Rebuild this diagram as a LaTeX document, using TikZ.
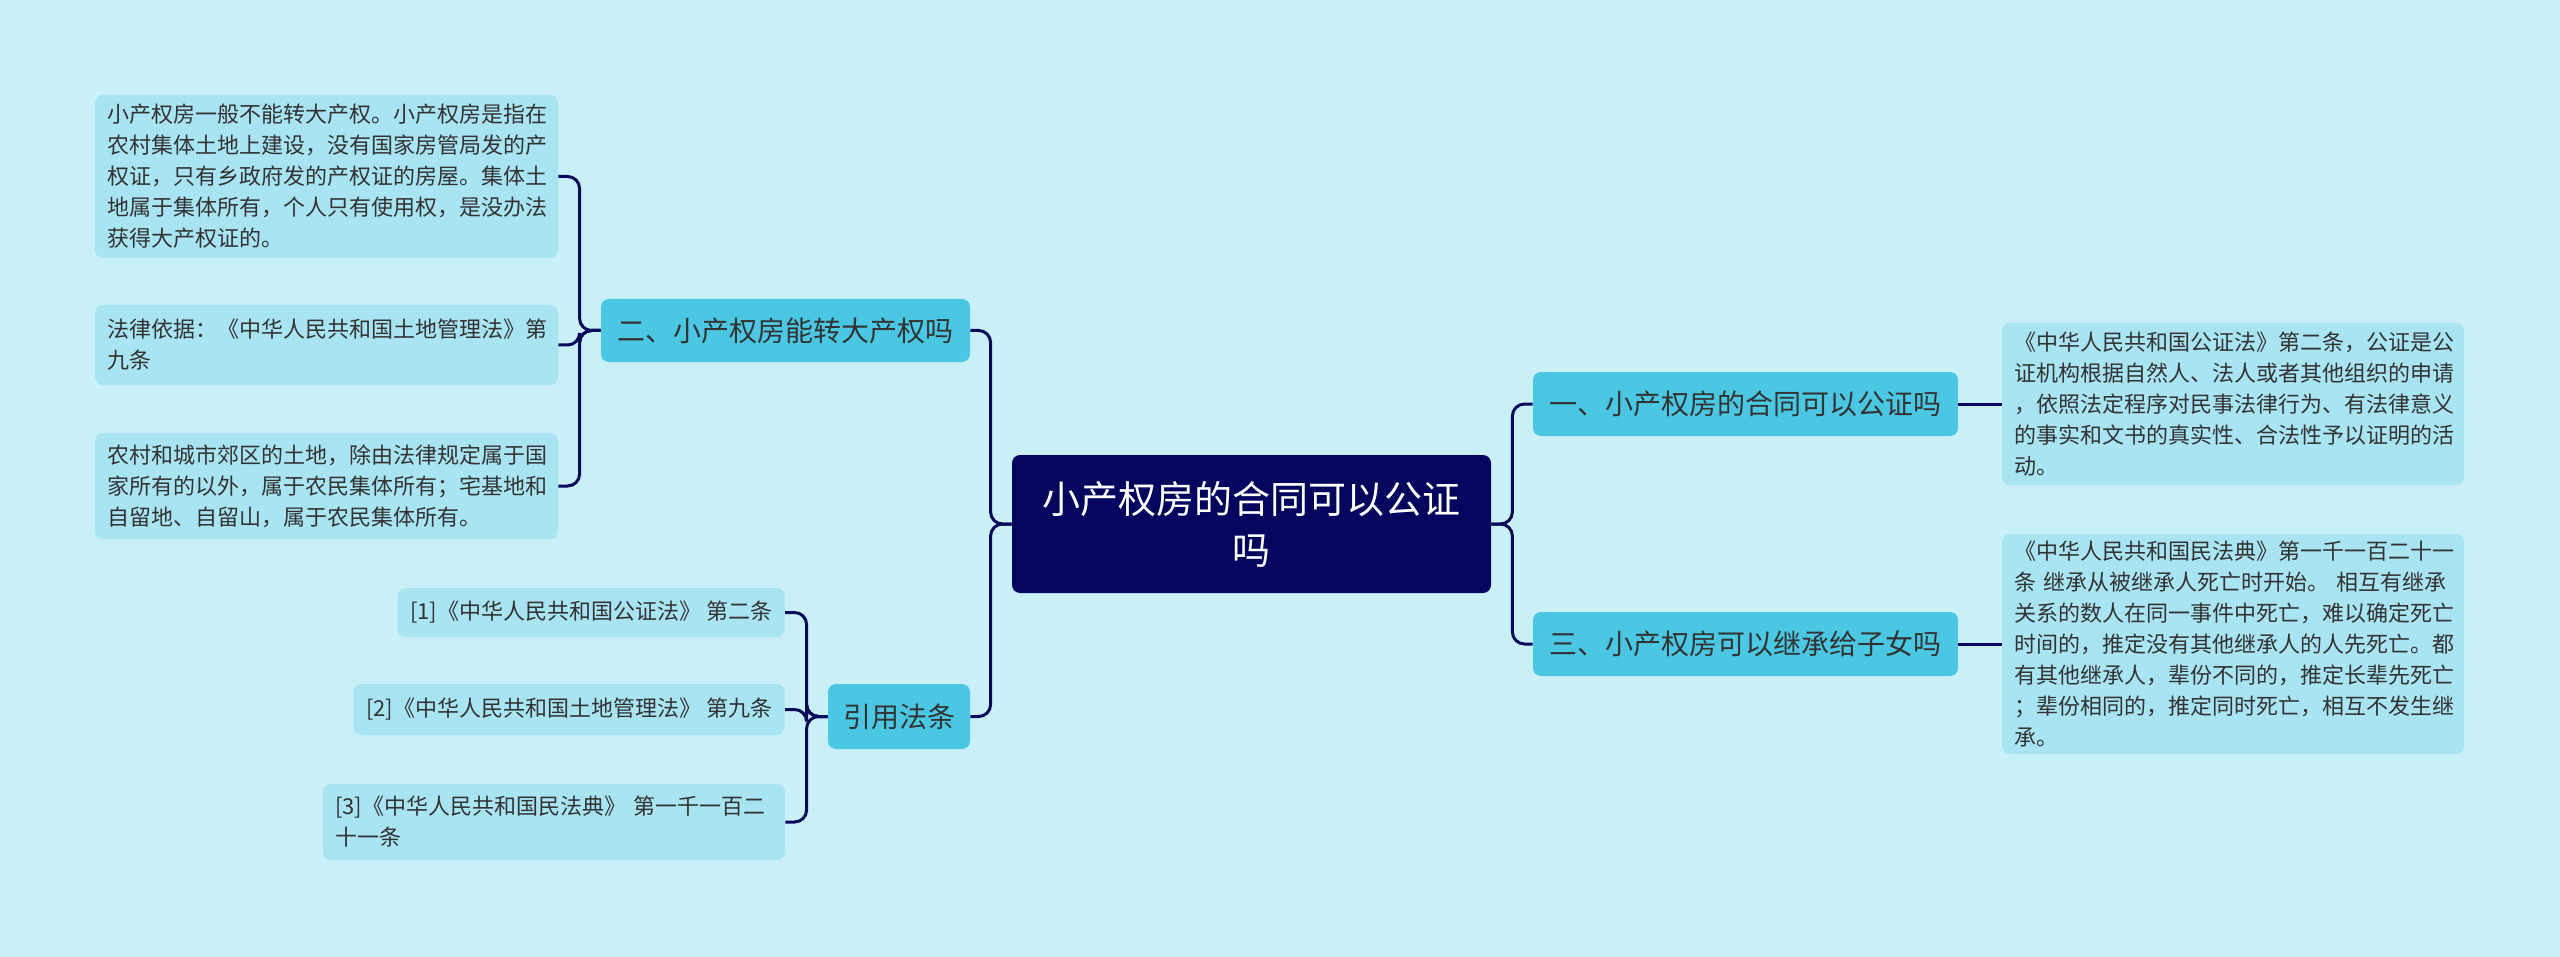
\documentclass[tikz,border=0pt]{standalone}
\usepackage{fontspec}
\setmainfont{Noto Sans CJK SC}
\definecolor{bgc}{HTML}{C9F0F7}
\definecolor{leafc}{HTML}{A8E4F2}
\definecolor{branchc}{HTML}{4AC8E3}
\definecolor{rootc}{HTML}{03055E}
\definecolor{linec}{HTML}{0A0A5C}
\definecolor{txtc}{HTML}{333333}
\tikzset{
  rootbox/.style={fill=rootc, rounded corners=4pt, text=white, align=center,
    font=\fontsize{19pt}{25.5pt}\selectfont, inner sep=0pt},
  branchbox/.style={fill=branchc, rounded corners=4pt, text=txtc, align=center,
    font=\fontsize{14pt}{18pt}\selectfont, inner sep=0pt},
  leafbox/.style={fill=leafc, rounded corners=4pt, text=txtc, align=left,
    font=\fontsize{11pt}{15.5pt}\selectfont, inner xsep=6pt, inner ysep=0pt},
  conn/.style={draw=linec, line width=1.5pt, rounded corners=6pt},
}
\begin{document}
\begin{tikzpicture}[x=0.5pt,y=-0.5pt]
\useasboundingbox (0,0) rectangle (2560,957);
\fill[bgc] (0,0) rectangle (2560,957);
% root
\node[rootbox, minimum width=239.5pt, minimum height=69pt] (c) at (1251.5,524) {小产权房的合同可以公证\\吗};
% right branches
\node[branchbox, minimum width=212.5pt, minimum height=32pt] (b1) at (1745.5,404) {一、小产权房的合同可以公证吗};
\node[branchbox, minimum width=212.5pt, minimum height=32pt] (b3) at (1745.5,644) {三、小产权房可以继承给子女吗};
% left branches
\node[branchbox, minimum width=184.5pt, minimum height=31.5pt] (b2) at (785.5,330.5) {二、小产权房能转大产权吗};
\node[branchbox, minimum width=71pt, minimum height=32.5pt] (bref) at (899,716.5) {引用法条};
% right leaves
\node[leafbox, text width=219pt, minimum height=81pt] (r1) at (2233,404) {《中华人民共和国公证法》第二条，公证是公\\证机构根据自然人、法人或者其他组织的申请\\，依照法定程序对民事法律行为、有法律意义\\的事实和文书的真实性、合法性予以证明的活\\动。};
\node[leafbox, text width=219pt, minimum height=110pt] (r2) at (2233,644) {《中华人民共和国民法典》第一千一百二十一\\条 继承从被继承人死亡时开始。 相互有继承\\关系的数人在同一事件中死亡，难以确定死亡\\时间的，推定没有其他继承人的人先死亡。都\\有其他继承人，辈份不同的，推定长辈先死亡\\；辈份相同的，推定同时死亡，相互不发生继\\承。};
% left leaves
\node[leafbox, text width=219.5pt, minimum height=81.5pt] (l1) at (326.5,176.5) {小产权房一般不能转大产权。小产权房是指在\\农村集体土地上建设，没有国家房管局发的产\\权证，只有乡政府发的产权证的房屋。集体土\\地属于集体所有，个人只有使用权，是没办法\\获得大产权证的。};
\node[leafbox, text width=219.5pt, minimum height=40pt] (l2) at (326.5,345) {法律依据：《中华人民共和国土地管理法》第\\九条};
\node[leafbox, text width=219.5pt, minimum height=53pt] (l3) at (326.5,486) {农村和城市郊区的土地，除由法律规定属于国\\家所有的以外，属于农民集体所有；宅基地和\\自留地、自留山，属于农民集体所有。};
% reference leaves
\node[leafbox, minimum width=193.5pt, minimum height=24.5pt, anchor=east] (f1) at (785,612.5) {[1]《中华人民共和国公证法》 第二条};
\node[leafbox, minimum width=215.5pt, minimum height=25.5pt, anchor=east] (f2) at (785,709.5) {[2]《中华人民共和国土地管理法》 第九条};
\node[leafbox, text width=219pt, minimum height=38pt] (f3) at (554,822) {[3]《中华人民共和国民法典》 第一千一百二\\十一条};
% connectors
\draw[conn] (c.east) -- ++(21,0) |- (b1.west);
\draw[conn] (c.east) -- ++(21,0) |- (b3.west);
\draw[conn] (c.west) -- ++(-21,0) |- (b2.east);
\draw[conn] (c.west) -- ++(-21,0) |- (bref.east);
\draw[conn] (b1.east) -- (r1.west);
\draw[conn] (b3.east) -- (r2.west);
\draw[conn] (b2.west) -- ++(-21,0) |- (l1.east);
\draw[conn] (b2.west) -- ++(-21,0) |- (l2.east);
\draw[conn] (b2.west) -- ++(-21,0) |- (l3.east);
\draw[conn] (bref.west) -- ++(-21,0) |- (f1.east);
\draw[conn] (bref.west) -- ++(-21,0) |- (f2.east);
\draw[conn] (bref.west) -- ++(-21,0) |- (f3.east);
\end{tikzpicture}
\end{document}
